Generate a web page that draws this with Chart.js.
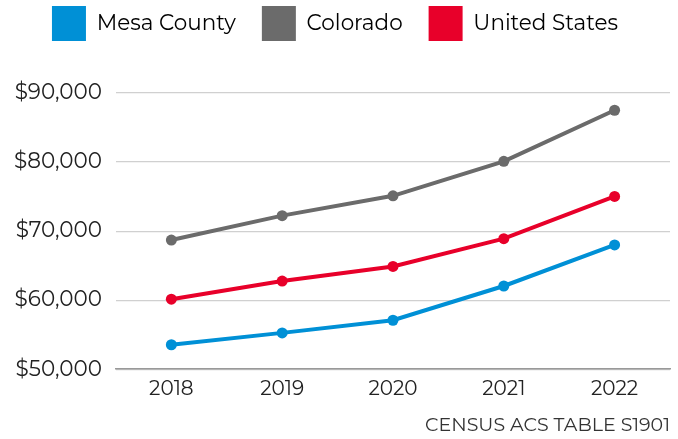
<!DOCTYPE html>
<html>
<head>
<meta charset="utf-8">
<script src="https://cdn.jsdelivr.net/npm/chart.js"></script>
<style>
  body { margin: 0; background: #fff; }
</style>
</head>
<body>
<canvas id="income" width="678" height="439"></canvas>
<script>
const years = ["2018", "2019", "2020", "2021", "2022"]
const mesaCounty = [53540, 55260, 57090, 62050, 67990]
const colorado = [68700, 72240, 75110, 80100, 87500]
const unitedStates = [60140, 62770, 64880, 68900, 75020]

const font = "Montserrat, 'Open Sans', 'Noto Sans', sans-serif"

function series(label, data, color) {
    return {
        label: label,
        data: data,
        borderColor: color,
        backgroundColor: color,
        pointBackgroundColor: color,
        borderWidth: 4,
        pointRadius: 5.5,
        pointBorderWidth: 0,
        pointHoverRadius: 5.5,
        tension: 0
    }
}

// extra room under the legend
const legendGap = {
    id: 'legendGap',
    beforeInit: function (chart) {
        const fit = chart.legend.fit
        chart.legend.fit = function () {
            fit.bind(chart.legend)()
            this.height += 42
        }
    }
}

window.onload = function () {
    let context = document.querySelector("#income").getContext('2d')
    new Chart(context, {
        type: 'line',
        data: {
            labels: years,
            datasets: [
                series("Mesa County", mesaCounty, "#0090d6"),
                series("Colorado", colorado, "#6b6b6b"),
                series("United States", unitedStates, "#e8002a")
            ]
        },
        plugins: [legendGap],
        options: {
            responsive: false,
            animation: false,
            layout: { padding: { left: 0, right: 8, top: -20, bottom: 2 } },
            plugins: {
                legend: {
                    position: 'top',
                    labels: {
                        boxWidth: 34,
                        boxHeight: 35,
                        padding: 26,
                        color: "#222",
                        font: { family: font, size: 21.5 },
                        generateLabels: function (chart) {
                            return chart.data.datasets.map(function (ds, i) {
                                return {
                                    text: ds.label,
                                    fillStyle: ds.borderColor,
                                    strokeStyle: ds.borderColor,
                                    lineWidth: 0,
                                    datasetIndex: i
                                }
                            })
                        }
                    }
                },
                title: {
                    display: true,
                    text: "CENSUS ACS TABLE S1901",
                    position: 'bottom',
                    align: 'end',
                    color: "#333",
                    font: { family: font, size: 19, weight: 'normal' },
                    padding: { top: 5, bottom: 0 }
                },
                tooltip: { enabled: false }
            },
            scales: {
                x: {
                    offset: true,
                    grid: { display: false, drawTicks: false },
                    border: { display: true, color: "#999", width: 1.5 },
                    ticks: {
                        color: "#222",
                        padding: 8,
                        font: { family: font, size: 20 }
                    }
                },
                y: {
                    min: 50000,
                    max: 90000,
                    grid: { color: "#d0d0d0", lineWidth: 1.2, drawTicks: false },
                    border: { display: false },
                    ticks: {
                        stepSize: 10000,
                        padding: 14,
                        color: "#222",
                        font: { family: font, size: 21.5 },
                        callback: function (v) { return "$" + v.toLocaleString("en-US") }
                    }
                }
            }
        }
    })
}
</script>
</body>
</html>
